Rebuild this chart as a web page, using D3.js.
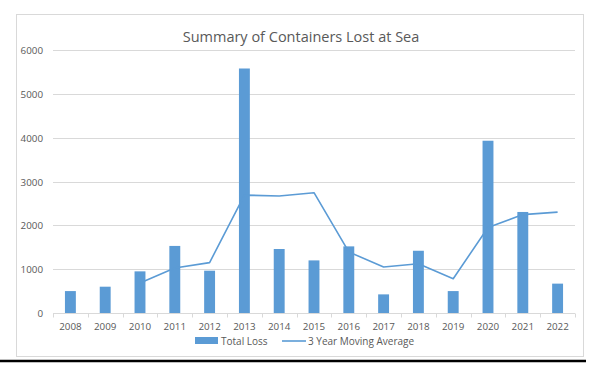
<!DOCTYPE html>
<html>
<head>
<meta charset="utf-8">
<script src="https://cdn.jsdelivr.net/npm/d3@7"></script>
<style>
  body { margin: 0; background: #fff; }
  text { font-family: "Open Sans", "Noto Sans", sans-serif; fill: #595959; }
</style>
</head>
<body>
<div id="chart"></div>
<script>
// Containers lost at sea
const years = ["2008", "2009", "2010", "2011", "2012", "2013", "2014", "2015",
  "2016", "2017", "2018", "2019", "2020", "2021", "2022"];
const totalLoss = [500, 600, 950, 1530, 965, 5578, 1460, 1200, 1520, 425, 1420, 500, 3930, 2305, 670];
// 3 year moving average (starts in 2010)
const avgYears = ["2010", "2011", "2012", "2013", "2014", "2015", "2016", "2017",
  "2018", "2019", "2020", "2021", "2022"];
const movingAvg = [685, 1025, 1150, 2690, 2668, 2745, 1393, 1048, 1122, 782, 1950, 2245, 2302];
const yTicks = [0, 1000, 2000, 3000, 4000, 5000, 6000];

const width = 600, height = 375;
const margin = { top: 50, right: 25, bottom: 62, left: 53 };
const blue = "#5b9bd5";

const svg = d3.select("#chart")
  .append("svg")
  .attr("width", width)
  .attr("height", height)
  .attr("viewBox", [0, 0, width, height]);

// chart frame
svg.append("rect")
  .attr("x", 16.5).attr("y", 14.5)
  .attr("width", 567).attr("height", 342)
  .attr("fill", "#fff")
  .attr("stroke", "#d9d9d9");

svg.append("line")
  .attr("x1", 0).attr("x2", 586)
  .attr("y1", 361).attr("y2", 361)
  .attr("stroke", "#000")
  .attr("stroke-width", 2.5);

// Scales
const x = d3.scaleBand()
  .domain(years)
  .range([margin.left, width - margin.right]);

const y = d3.scaleLinear()
  .domain([0, 6000])
  .range([height - margin.bottom, margin.top]);

const barW = x.bandwidth() / 3.19;

// Gridlines
svg.append("g")
  .selectAll("line")
  .data(yTicks.filter(d => d > 0))
  .join("line")
  .attr("x1", margin.left)
  .attr("x2", width - margin.right)
  .attr("y1", d => Math.round(y(d)) + 0.5)
  .attr("y2", d => Math.round(y(d)) + 0.5)
  .attr("stroke", "#d9d9d9");

// Y axis labels
const yAxis = svg.append("g")
  .attr("transform", `translate(${margin.left},0.5)`)
  .call(d3.axisLeft(y).tickValues(yTicks).tickSize(0).tickPadding(10).tickFormat(d3.format("d")));
yAxis.select(".domain").remove();
yAxis.selectAll("text")
  .style("font-size", "9.8px")
  .style("fill", "#595959");

// Bars
svg.append("g")
  .selectAll("rect")
  .data(totalLoss)
  .join("rect")
  .attr("x", (d, i) => x(years[i]) + (x.bandwidth() - barW) / 2)
  .attr("y", d => y(d))
  .attr("width", barW)
  .attr("height", d => y(0) - y(d))
  .attr("fill", blue);

// Moving average line
const line = d3.line()
  .x((d, i) => x(avgYears[i]) + x.bandwidth() / 2)
  .y(d => y(d));

svg.append("path")
  .datum(movingAvg)
  .attr("d", line)
  .attr("fill", "none")
  .attr("stroke", blue)
  .attr("stroke-width", 1.6)
  .attr("stroke-linejoin", "round");

// X axis: baseline with ticks between categories
const xAxis = svg.append("g")
  .attr("transform", `translate(0,${Math.round(y(0)) + 0.5})`);
xAxis.append("line")
  .attr("x1", margin.left)
  .attr("x2", width - margin.right)
  .attr("stroke", "#d9d9d9");
xAxis.selectAll(".tk")
  .data(years.concat(["end"]))
  .join("line")
  .attr("class", "tk")
  .attr("x1", d => Math.round(d === "end" ? width - margin.right : x(d)) + 0.5)
  .attr("x2", d => Math.round(d === "end" ? width - margin.right : x(d)) + 0.5)
  .attr("y1", 0).attr("y2", 4)
  .attr("stroke", "#d9d9d9");
xAxis.selectAll("text")
  .data(years)
  .join("text")
  .attr("x", d => x(d) + x.bandwidth() / 2)
  .attr("y", 16)
  .attr("text-anchor", "middle")
  .style("font-size", "9.8px")
  .text(d => d);

// Title
svg.append("text")
  .attr("x", 301)
  .attr("y", 42)
  .attr("text-anchor", "middle")
  .style("font-size", "14.5px")
  .text("Summary of Containers Lost at Sea");

// Legend
const legend = svg.append("g").attr("transform", "translate(0,341)");
legend.append("rect")
  .attr("x", 195).attr("y", -4)
  .attr("width", 23).attr("height", 7)
  .attr("fill", blue);
legend.append("text")
  .attr("x", 221).attr("y", 3.5)
  .style("font-size", "10px")
  .text("Total Loss");
legend.append("line")
  .attr("x1", 282).attr("x2", 306)
  .attr("y1", 0).attr("y2", 0)
  .attr("stroke", blue)
  .attr("stroke-width", 1.6);
legend.append("text")
  .attr("x", 308).attr("y", 3.5)
  .style("font-size", "10px")
  .text("3 Year Moving Average");
</script>
</body>
</html>
